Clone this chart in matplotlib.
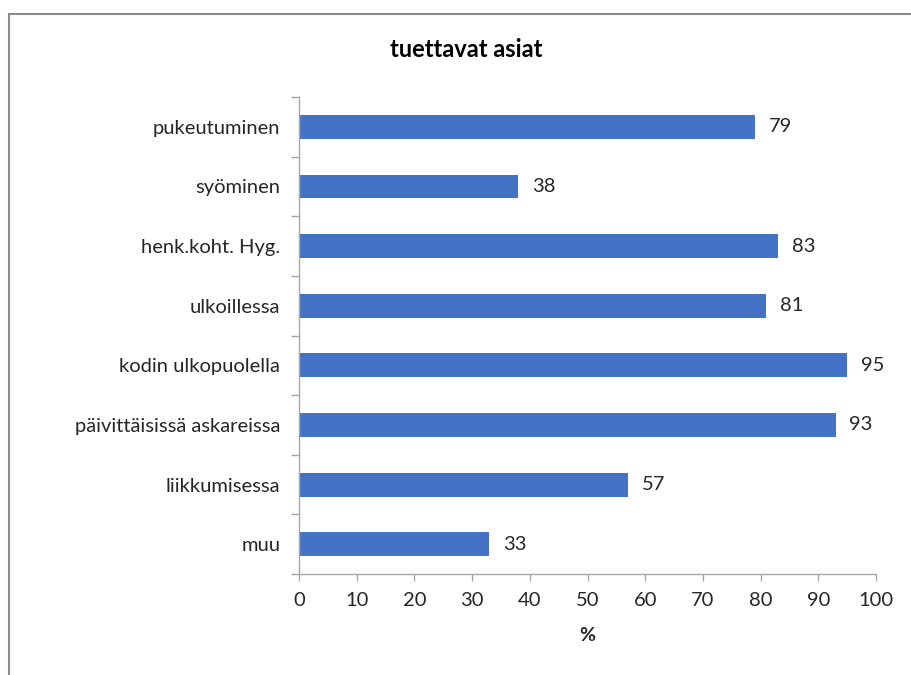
import numpy as np
import matplotlib.pyplot as plt
from matplotlib.lines import Line2D

plt.rcParams['font.family'] = ['Lato', 'DejaVu Sans']

# supported activities and share of respondents (%)
categories = ['pukeutuminen', 'syöminen', 'henk.koht. Hyg.', 'ulkoillessa',
              'kodin ulkopuolella', 'päivittäisissä askareissa', 'liikkumisessa', 'muu']
values = [79, 38, 83, 81, 95, 93, 57, 33]
x_ticks = list(range(0, 101, 10))

fig = plt.figure(figsize=(9.11, 6.75), dpi=100)
ax = fig.add_axes([0.3282, 0.1496, 0.6334, 0.7067])

y = np.arange(len(categories))
ax.barh(y, values, height=0.4, color='#4472C4')

for yi, v in zip(y, values):
    ax.text(v + 2.4, yi, str(v), va='center', ha='left', fontsize=14.5, color='#262626')

ax.set_ylim(len(categories) - 0.5, -0.5)
ax.set_xlim(0, 100)
ax.set_xticks(x_ticks)
ax.set_yticks(y)
ax.set_yticklabels(categories)
ax.set_yticks(np.arange(-0.5, len(categories)), minor=True)

ax.tick_params(axis='y', which='major', length=0, pad=13.5, labelsize=14.5, labelcolor='#262626')
ax.tick_params(axis='y', which='minor', length=6, color='#a6a6a6', width=1)
ax.tick_params(axis='x', length=5, color='#a6a6a6', width=1, pad=8, labelsize=14.5, labelcolor='#262626')

for side in ['top', 'right']:
    ax.spines[side].set_visible(False)
for side in ['left', 'bottom']:
    ax.spines[side].set_color('#a6a6a6')
    ax.spines[side].set_linewidth(1)

ax.set_xlabel('%', fontsize=14, fontweight='bold', color='#262626', labelpad=13)
fig.text(0.512, 0.927, 'tuettavat asiat', ha='center', va='center',
         fontsize=17, fontweight='bold', color='#000000')

# chart frame lines along the top and left edges
fig.add_artist(Line2D([0.0095, 1.0], [0.9793, 0.9793], transform=fig.transFigure,
                      color='#8c8c8c', linewidth=1.5))
fig.add_artist(Line2D([0.0095, 0.0095], [0.0, 0.9793], transform=fig.transFigure,
                      color='#8c8c8c', linewidth=1.5))

fig.savefig('out.png', dpi=100)
